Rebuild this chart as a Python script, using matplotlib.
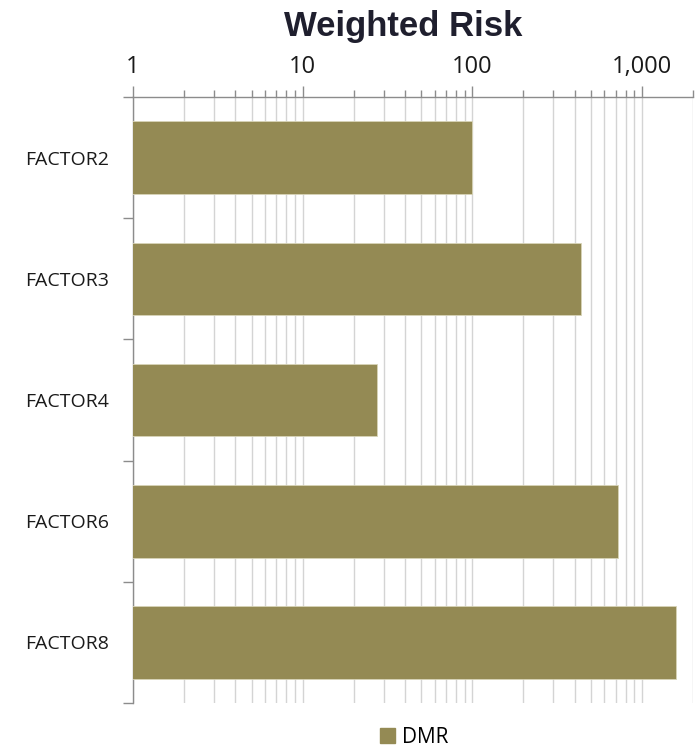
import numpy as np
import matplotlib
matplotlib.use("Agg")
import matplotlib.pyplot as plt
import matplotlib.ticker as mticker
from matplotlib.patches import Patch

# data
factors = ["FACTOR2", "FACTOR3", "FACTOR4", "FACTOR6", "FACTOR8"]
dmr = [100, 435, 27.5, 720, 1590]
xticks = [1, 10, 100, 1000]

bar_col = "#948A54"
grid_col = "#d4d4d4"
axis_col = "#8c8c8c"

fig = plt.figure(figsize=(6.96, 7.47), dpi=100)
ax = fig.add_axes([0.191, 0.059, 0.805, 0.811])

y = np.arange(len(factors))
ax.barh(y, dmr, height=0.6, color=bar_col, edgecolor="#d8d4b8", linewidth=0.6,
        zorder=3, label="DMR")

ax.set_xscale("log")
ax.set_xlim(1, 2000)
ax.set_ylim(len(factors) - 0.5, -0.5)

ax.xaxis.tick_top()
ax.xaxis.set_major_locator(mticker.FixedLocator(xticks))
ax.xaxis.set_minor_locator(mticker.LogLocator(base=10, subs=np.arange(2, 10), numticks=20))
ax.xaxis.set_major_formatter(mticker.FuncFormatter(lambda v, p: "{:,.0f}".format(v)))
ax.xaxis.set_minor_formatter(mticker.NullFormatter())
ax.tick_params(axis="x", which="major", length=8, width=1, color=axis_col,
               labelsize=17, pad=5, labelcolor="#1a1a1a")
ax.tick_params(axis="x", which="minor", length=5, width=1, color=axis_col)
for lab in ax.get_xticklabels():
    lab.set_family("Open Sans")

ax.grid(True, axis="x", which="both", color=grid_col, linewidth=1, zorder=0)

# category labels at centres, tick marks at boundaries
ax.set_yticks(y)
ax.set_yticklabels(factors, family="Open Sans", fontsize=14, color="#1a1a1a")
ax.tick_params(axis="y", which="major", length=0, pad=17)
ax.set_yticks(np.arange(len(factors) + 1) - 0.5, minor=True)
ax.tick_params(axis="y", which="minor", length=7, width=1, color=axis_col)

for s in ["right", "bottom"]:
    ax.spines[s].set_visible(False)
for s in ["left", "top"]:
    ax.spines[s].set_color(axis_col)
    ax.spines[s].set_linewidth(1)

fig.text(0.58, 0.964, "Weighted Risk", ha="center", va="center",
         fontsize=25, fontweight="bold", family="Liberation Sans", color="#1f1f2e")

fig.legend(handles=[Patch(color=bar_col, label="DMR")], loc="center",
           bbox_to_anchor=(0.595, 0.013), frameon=False, handlelength=0.7,
           handleheight=0.7, handletextpad=0.35, prop={"family": "Open Sans", "size": 15})

fig.savefig("out.png", dpi=100)
